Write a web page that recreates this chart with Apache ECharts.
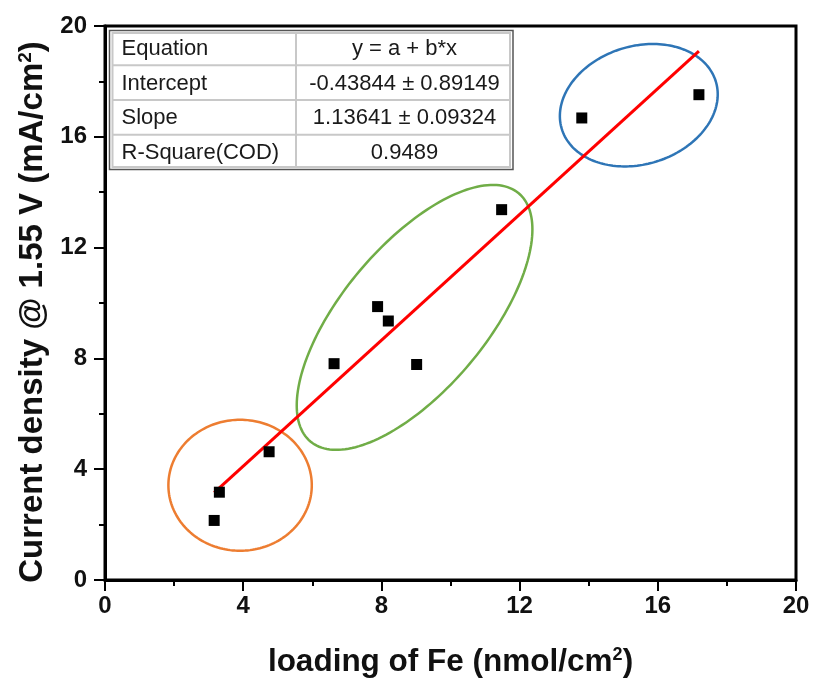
<!DOCTYPE html>
<html>
<head>
<meta charset="utf-8">
<script src="https://cdn.jsdelivr.net/npm/echarts@6/dist/echarts.min.js"></script>
<style>
  html, body { margin: 0; padding: 0; background: #fff; }
  #chart { width: 815px; height: 683px; }
</style>
</head>
<body>
<div id="chart"></div>
<script>
// Fe loading vs. current density at 1.55 V
const loadingFe = [3.16, 3.31, 4.75, 6.63, 7.89, 8.20, 9.02, 11.48, 13.80, 17.19];
const currentDensity = [2.15, 3.17, 4.63, 7.81, 9.87, 9.35, 7.78, 13.37, 16.68, 17.52];

// Axis ticks
const xTicks = [0, 4, 8, 12, 16, 20];
const yTicks = [0, 4, 8, 12, 16, 20];

// Linear fit results
const fitIntercept = -0.43844;
const fitSlope = 1.13641;
const fitTableLabels = ['Equation', 'Intercept', 'Slope', 'R-Square(COD)'];
const fitTableValues = ['y = a + b*x', '-0.43844 \u00b1 0.89149', '1.13641 \u00b1 0.09324', '0.9489'];

// Cluster ellipse centres (data units)
const clusterCenters = [[3.91, 3.42], [8.96, 9.48], [15.45, 17.14]];

// Ellipse drawing styles: semi-axes in px, rotation in degrees, colour
const clusterStyles = [
  { a: 71.7, b: 65.5, rot: 0, color: '#ED7D31' },
  { a: 162, b: 72, rot: 50, color: '#70AD47' },
  { a: 80.6, b: 59, rot: 17.3, color: '#2E75B6' }
];

const FONT = "'Liberation Sans', Arial, sans-serif";

const scatterData = loadingFe.map((x, i) => [x, currentDensity[i]]);
const xMin = Math.min(...loadingFe);
const xMax = Math.max(...loadingFe);
const fitLine = [[xMin, fitIntercept + fitSlope * xMin], [xMax, fitIntercept + fitSlope * xMax]];

const GRID = { left: 105, right: 19, top: 26, bottom: 101 };

function ellipsePoints(cx, cy, a, b, rotDeg) {
  const th = rotDeg * Math.PI / 180;
  const pts = [];
  for (let k = 0; k < 180; k++) {
    const t = k / 180 * Math.PI * 2;
    const ex = a * Math.cos(t), ey = b * Math.sin(t);
    pts.push([cx + ex * Math.cos(th) - ey * Math.sin(th),
              cy - (ex * Math.sin(th) + ey * Math.cos(th))]);
  }
  return pts;
}

// Fit results table drawn inside the plot area
function tableGraphics() {
  const x0 = 109.5, y0 = 30.5, w = 403.5, rowH = 34.75, split = 296;
  const h = rowH * fitTableLabels.length;
  const els = [];
  els.push({ type: 'rect', shape: { x: x0, y: y0, width: w, height: h },
    style: { fill: '#fff', stroke: '#555', lineWidth: 1.5 }, z: 10 });
  els.push({ type: 'rect', shape: { x: x0 + 3, y: y0 + 2.5, width: w - 6, height: h - 5 },
    style: { fill: null, stroke: '#c8c8c8', lineWidth: 2 }, z: 11 });
  for (let r = 1; r < fitTableLabels.length; r++) {
    els.push({ type: 'line', shape: { x1: x0 + 3, y1: y0 + r * rowH, x2: x0 + w - 3, y2: y0 + r * rowH },
      style: { stroke: '#c8c8c8', lineWidth: 2 }, z: 11 });
  }
  els.push({ type: 'line', shape: { x1: split, y1: y0 + 2.5, x2: split, y2: y0 + h - 2.5 },
    style: { stroke: '#c8c8c8', lineWidth: 2 }, z: 11 });
  fitTableLabels.forEach((lab, r) => {
    const cy = y0 + rowH * r + rowH / 2 + 1;
    els.push({ type: 'text', x: x0 + 12, y: cy, z: 12,
      style: { text: lab, font: '22px ' + FONT, fill: '#1a1a1a', textAlign: 'left', textVerticalAlign: 'middle' } });
    els.push({ type: 'text', x: (split + x0 + w) / 2, y: cy, z: 12,
      style: { text: fitTableValues[r], font: '22px ' + FONT, fill: '#1a1a1a', textAlign: 'center', textVerticalAlign: 'middle' } });
  });
  return els;
}

const chart = echarts.init(document.getElementById('chart'), null, { renderer: 'canvas' });

const axisCommon = {
  type: 'value',
  min: 0, max: 20, interval: 4,
  axisLine: { show: true, onZero: false, lineStyle: { color: '#000', width: 3 } },
  axisTick: { show: true, inside: false, length: 11, lineStyle: { color: '#000', width: 2 } },
  minorTick: { show: true, splitNumber: 2, length: 6, lineStyle: { color: '#000', width: 2 } },
  splitLine: { show: false },
  nameLocation: 'middle'
};

chart.setOption({
  backgroundColor: '#fff',
  animation: false,
  grid: { left: GRID.left, right: GRID.right, top: GRID.top, bottom: GRID.bottom,
          show: true, borderColor: '#000', borderWidth: 3, backgroundColor: 'transparent' },
  xAxis: Object.assign({}, axisCommon, {
    name: '{t|loading of Fe (nmol/cm}{s|2}{t|)}',
    nameGap: 66,
    nameTextStyle: { rich: {
      t: { fontFamily: FONT, fontWeight: 'bold', fontSize: 31.5, color: '#111' },
      s: { fontFamily: FONT, fontWeight: 'bold', fontSize: 18, color: '#111', verticalAlign: 'top', padding: [0, 0, 14, 0] }
    } },
    axisLabel: { margin: 14, fontFamily: FONT, fontWeight: 'bold', fontSize: 24, color: '#111',
      formatter: v => xTicks.includes(v) ? String(v) : '' }
  }),
  yAxis: Object.assign({}, axisCommon, {
    name: '{t|Current density @ 1.55 V (mA/cm}{s|2}{t|)}',
    nameGap: 45,
    nameRotate: 90,
    nameTextStyle: {
      padding: [0, 18, 0, 0],
      rich: {
        t: { fontFamily: FONT, fontWeight: 'bold', fontSize: 33, color: '#111' },
        s: { fontFamily: FONT, fontWeight: 'bold', fontSize: 19, color: '#111', verticalAlign: 'top', padding: [0, 0, 15, 0] }
      }
    },
    axisLabel: { margin: 18, fontFamily: FONT, fontWeight: 'bold', fontSize: 24, color: '#111',
      formatter: v => yTicks.includes(v) ? String(v) : '' }
  }),
  graphic: tableGraphics(),
  series: [
    {
      type: 'custom',
      coordinateSystem: 'cartesian2d',
      data: clusterCenters,
      z: 3,
      silent: true,
      renderItem: (params, api) => {
        const p = api.coord([api.value(0), api.value(1)]);
        const st = clusterStyles[params.dataIndex];
        return {
          type: 'polygon',
          shape: { points: ellipsePoints(p[0], p[1], st.a, st.b, st.rot) },
          style: { fill: null, stroke: st.color, lineWidth: 2.5 }
        };
      }
    },
    {
      type: 'line',
      data: fitLine,
      showSymbol: false,
      symbol: 'none',
      z: 4,
      lineStyle: { color: '#ff0000', width: 3 }
    },
    {
      type: 'scatter',
      data: scatterData,
      symbol: 'rect',
      symbolSize: 11,
      z: 5,
      itemStyle: { color: '#000', opacity: 1 }
    }
  ]
});
</script>
</body>
</html>
